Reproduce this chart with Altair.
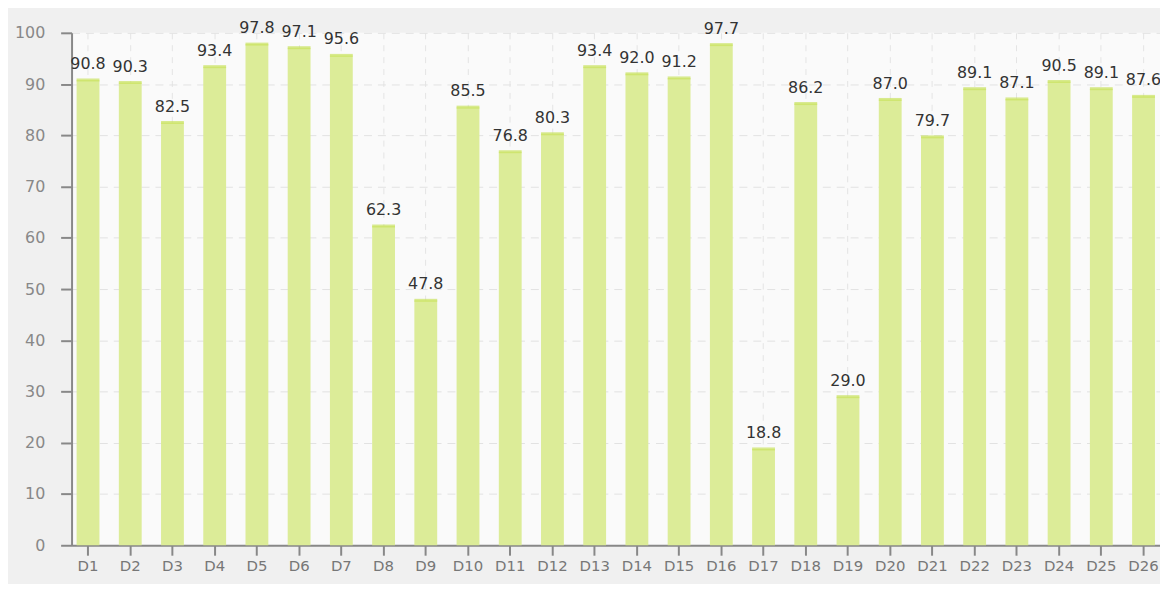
import altair as alt
import pandas as pd

categories = [f"D{i}" for i in range(1, 27)]
values = [90.8, 90.3, 82.5, 93.4, 97.8, 97.1, 95.6, 62.3, 47.8, 85.5, 76.8, 80.3, 93.4,
          92.0, 91.2, 97.7, 18.8, 86.2, 29.0, 87.0, 79.7, 89.1, 87.1, 90.5, 89.1, 87.6]
y_ticks = list(range(0, 101, 10))

df = pd.DataFrame({"cat": categories, "val": values})
df["label"] = [f"{v:.1f}" for v in values]

FONT = "DejaVu Sans"

x_enc = alt.X("cat:N", sort=categories, title=None,
              scale=alt.Scale(paddingInner=0.46, paddingOuter=0.12),
              axis=alt.Axis(labelAngle=0, labelFontSize=15, labelColor="#777777",
                            labelFont=FONT, tickSize=10, tickColor="#888888",
                            tickWidth=2, domainColor="#888888", domainWidth=2,
                            labelPadding=3, grid=True, gridColor="#e4e4e4",
                            gridDash=[6, 6], gridWidth=1))
y_enc = alt.Y("val:Q", title=None,
              scale=alt.Scale(domain=[0, 100], nice=False),
              axis=alt.Axis(values=y_ticks, labelFontSize=16, labelColor="#888888",
                            labelFont=FONT, tickSize=11, tickColor="#888888",
                            tickWidth=2, domainColor="#888888", domainWidth=2,
                            labelPadding=16, gridColor="#e2e2e2", gridDash=[8, 6],
                            gridWidth=1))

base = alt.Chart(df)

bars = base.mark_bar(color="#dcec98", size=23).encode(x=x_enc, y=y_enc)
tops = base.mark_tick(color="#c9e25e", size=23, thickness=3, orient="horizontal").encode(
    x=alt.X("cat:N", sort=categories), y="val:Q")
labels = base.mark_text(baseline="bottom", dy=-8, fontSize=16, font=FONT,
                        color="#333333").encode(
    x=alt.X("cat:N", sort=categories), y="val:Q", text="label:N")

chart = alt.layer(bars, tops, labels).properties(
    width=1096, height=516,
    autosize=alt.AutoSizeParams(type="none"),
    padding={"left": 64, "top": 23, "right": 0, "bottom": 37},
    background="#f0f0f0",
).configure_view(fill="#fafafa", stroke=None)

chart.save("out.html", embed_options={"renderer": "svg", "actions": False})
